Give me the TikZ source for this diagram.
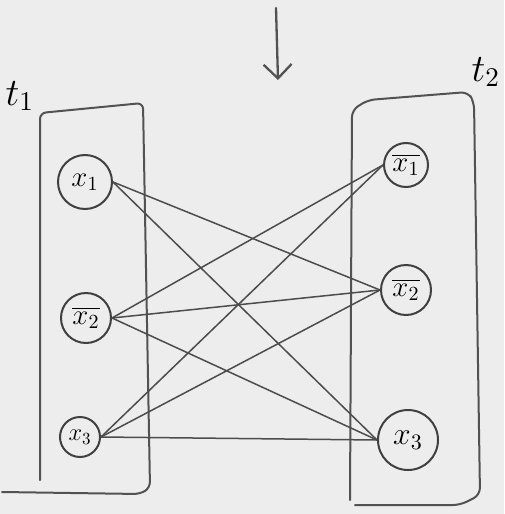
\documentclass[tikz,border=0pt]{standalone}
\usepackage{graphicx}
\usetikzlibrary{arrows.meta}
\newcommand{\bigtxt}[2][2]{\scalebox{#1}{\Large #2}}
\begin{document}
\begin{tikzpicture}[x=1pt,y=-1pt,
  pen/.style={draw=black!68,line width=2pt,line cap=round,line join=round},
  vnode/.style={circle,draw=black!75,line width=2pt,inner sep=0pt},
  edge/.style={draw=black!70,line width=1.5pt},
  lab/.style={}]
\useasboundingbox (0,0) rectangle (504,514);
\fill[white!93!black] (0,0) rectangle (504,514);
% arrow
\coordinate (a0) at (276,8);
\coordinate (a1) at (278,80);
\draw[pen,line width=2.3pt,-{Straight Barb[length=14pt,width=28pt]}] (a0) -- (a1);
% boxes
\draw[pen,rounded corners=6pt] (40,480) -- (40,113) -- (143,103) -- (150,488) -- (140,494) -- (2,492);
\draw[pen,rounded corners=7pt] (350,500) -- (352,110) -- (368,100) -- (468,92) -- (474,102) -- (480,495) -- (460,505) -- (355,505);
\node[lab] (t1) at (20,96) {\bigtxt[2.7]{$t_1$}};
\node[lab] (t2) at (486,72) {\bigtxt[2.7]{$t_2$}};
% left nodes
\node[vnode,minimum size=54pt] (L1) at (85,182) {\bigtxt{$x_1$}};
\node[vnode,minimum size=50pt] (L2) at (86,318) {\bigtxt{$\overline{x_2}$}};
\node[vnode,minimum size=40pt] (L3) at (80,437) {\bigtxt[1.7]{$x_3$}};
% right nodes
\node[vnode,minimum size=44pt] (R1) at (406,165) {\bigtxt{$\overline{x_1}$}};
\node[vnode,minimum size=50pt] (R2) at (406,290) {\bigtxt{$\overline{x_2}$}};
\node[vnode,minimum size=60pt] (R3) at (408,440) {\bigtxt[2.2]{$x_3$}};
% edges
\coordinate (p1) at (L1.east);
\coordinate (p2) at (L2.east);
\coordinate (p3) at (L3.east);
\draw[edge] (p1) -- (R2.west);
\draw[edge] (p1) -- (R3.west);
\draw[edge] (p2) -- (R1.west);
\draw[edge] (p2) -- (R2.west);
\draw[edge] (p2) -- (R3.west);
\draw[edge] (p3) -- (R1.west);
\draw[edge] (p3) -- (R2.west);
\draw[edge] (p3) -- (R3.west);
\end{tikzpicture}
\end{document}
